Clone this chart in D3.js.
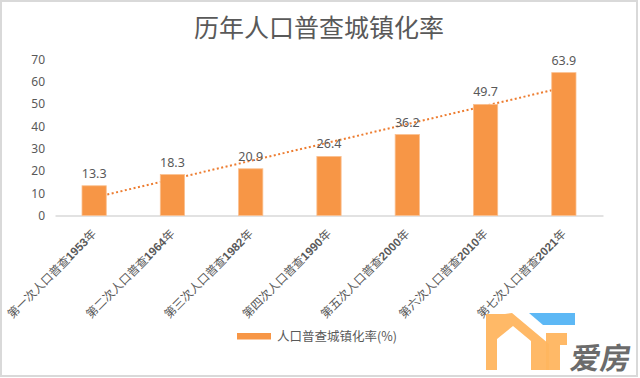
<!DOCTYPE html>
<html><head><meta charset="utf-8">
<script src="https://cdn.jsdelivr.net/npm/d3@7"></script>
<style>
html,body{margin:0;padding:0;background:#fff;}
svg{display:block;}
</style></head>
<body><svg id="c" width="640" height="378"></svg>
<script>
const titleText = "历年人口普查城镇化率";
const prefixes = ["第一次人口普查","第二次人口普查","第三次人口普查","第四次人口普查","第五次人口普查","第六次人口普查","第七次人口普查"];
const years = ["1953","1964","1982","1990","2000","2010","2021"];
const values = [13.3, 18.3, 20.9, 26.4, 36.2, 49.7, 63.9];
const yTicks = [0,10,20,30,40,50,60,70];
const legendText = "人口普查城镇化率(%)";

const svg = d3.select("#c");
const W = 640, H = 378;
const textColor = "#595959";
const barColor = "#F79646";
const cjk = "'Noto Sans CJK SC','Noto Sans',sans-serif";

// frame
svg.append("rect").attr("x",1).attr("y",1).attr("width",W-4).attr("height",H-3)
  .attr("fill","#fff").attr("stroke","#d9d9d9").attr("stroke-width",2);

const x = d3.scaleBand().domain(d3.range(values.length)).range([55,603]).paddingInner(0.69).paddingOuter(0.345);
const y = d3.scaleLinear().domain([0,70]).range([215.5,59]);

// title
svg.append("text").attr("x",319).attr("y",37).attr("text-anchor","middle")
  .attr("font-family",cjk).attr("font-size",25).attr("fill",textColor).text(titleText);

// y axis labels
const yAxis = d3.axisLeft(y).tickValues(yTicks).tickSize(0).tickPadding(0);
const gy = svg.append("g").attr("transform","translate(45,0)").call(yAxis);
gy.select(".domain").remove();
gy.selectAll("text").attr("font-family","'Noto Sans',sans-serif").attr("font-size",12).attr("fill",textColor).attr("dy","0.35em");

// x axis line
const xAxis = d3.axisBottom(x).tickSize(0).tickFormat("");
const gx = svg.append("g").attr("transform",`translate(0,${y(0)})`).call(xAxis);
gx.select(".domain").attr("stroke","#d9d9d9").attr("stroke-width",1.5);

// trendline (linear regression)
const n = values.length;
const xs = d3.range(1,n+1);
const mx = d3.mean(xs), my = d3.mean(values);
const slope = d3.sum(xs, (v,i)=>(v-mx)*(values[i]-my)) / d3.sum(xs, v=>(v-mx)*(v-mx));
const intercept = my - slope*mx;
const trend = xs.map(v => ({i:v-1, v: intercept + slope*v}));
svg.append("path").datum(trend)
  .attr("d", d3.line().x(d=>x(d.i)+x.bandwidth()/2).y(d=>y(d.v)))
  .attr("fill","none").attr("stroke","#ED7D31").attr("stroke-width",2).attr("stroke-dasharray","2,2.5");

// bars
svg.append("g").selectAll("rect").data(values).join("rect")
  .attr("x",(d,i)=>x(i)).attr("y",d=>y(d)).attr("width",x.bandwidth()).attr("height",d=>y(0)-y(d))
  .attr("fill",barColor).attr("stroke","#FAC090").attr("stroke-width",0.8);

// data labels
svg.append("g").selectAll("text").data(values).join("text")
  .attr("x",(d,i)=>x(i)+x.bandwidth()/2).attr("y",d=>y(d)-8)
  .attr("text-anchor","middle").attr("font-family","'Noto Sans',sans-serif").attr("font-size",12.5)
  .attr("fill",textColor).text(d=>d.toFixed(1));

// x labels rotated
const xl = svg.append("g").selectAll("text").data(prefixes).join("text")
  .attr("transform",(d,i)=>`translate(${x(i)+x.bandwidth()/2+3},${y(0)+19}) rotate(-45)`)
  .attr("text-anchor","end").attr("font-family",cjk).attr("font-size",11.7).attr("fill",textColor);
xl.append("tspan").text(d=>d);
xl.append("tspan").attr("font-family","'Liberation Sans',sans-serif").attr("font-weight","bold").text((d,i)=>years[i]);
xl.append("tspan").text("年");

// legend
svg.append("rect").attr("x",237).attr("y",333).attr("width",34).attr("height",6.5).attr("fill",barColor);
svg.append("text").attr("x",277).attr("y",340.5).attr("font-family",cjk).attr("font-size",12.5)
  .attr("fill",textColor).text(legendText);

// watermark logo
const logo = svg.append("g");
logo.append("path").attr("fill","#FFB55F").attr("opacity",0.95)
  .attr("d","M486,370 L486,314 L505,314 L512,313 L549,344 L549,370 L531,370 L531,341 L513,326 L497,339 L497,370 Z");
logo.append("path").attr("fill","#FFB55F").attr("opacity",0.95)
  .attr("d","M546,333 L567,333 L567,345 L560,345 L560,370 L546,370 Z");
logo.append("path").attr("fill","#5DB8F5")
  .attr("d","M529,313 L575,313 L575,325 L543,325 Z");
logo.append("text").attr("x",570).attr("y",369).attr("font-family",cjk).attr("font-weight","bold")
  .attr("font-size",30).attr("fill","#6b6b6b").attr("transform","skewX(-10) translate(64,0)").text("爱房");
</script>
</body></html>
